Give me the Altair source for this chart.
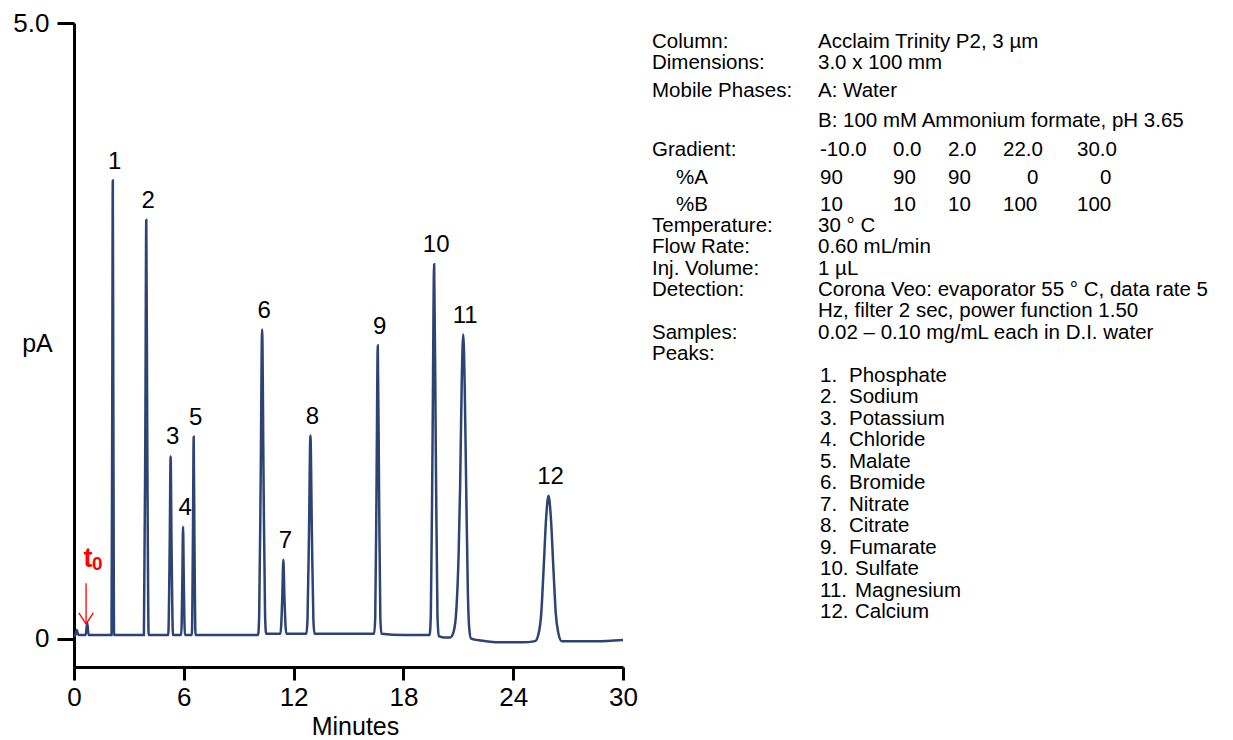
import altair as alt
import pandas as pd

FONT = "Liberation Sans, Arial, sans-serif"
TRACE_COLOR = "#2C4374"

# ---------------- chromatogram trace ----------------
trace_min = [
    0.00, 0.08, 0.15, 0.24, 0.64, 0.72, 0.80, 1.50,
    2.05, 2.09, 2.12, 2.15, 2.19, 3.00,
    3.82, 3.90, 3.95, 4.00, 4.08, 4.70,
    5.15, 5.23, 5.28, 5.33, 5.41,
    5.86, 5.92, 5.96, 6.00, 6.06,
    6.44, 6.50, 6.54, 6.58, 6.64, 7.50, 9.00,
    10.06, 10.12, 10.20, 10.28, 10.36, 10.44, 10.50, 10.90,
    11.28, 11.38, 11.44, 11.50, 11.60, 12.20,
    12.70, 12.76, 12.84, 12.92, 13.00, 13.08, 13.14, 14.50,
    16.40, 16.46, 16.53, 16.60, 16.67, 16.74, 16.80, 18.00,
    19.43, 19.50, 19.59, 19.68, 19.77, 19.86, 19.93, 20.20,
    20.55, 20.75, 20.90, 21.02, 21.10, 21.19, 21.27, 21.35, 21.43, 21.52, 21.60, 21.70, 22.50, 23.50, 24.50,
    25.20, 25.40, 25.53, 25.66, 25.80, 25.93, 26.06, 26.20, 26.33, 26.46, 26.65, 27.50, 28.50, 30.00,
]
trace_pA = [
    0.02, 0.03, 0.07, 0.03, 0.03, 0.13, 0.03, 0.03,
    0.03, 1.90, 3.72, 1.90, 0.03, 0.03,
    0.03, 1.75, 3.40, 1.75, 0.03, 0.03,
    0.03, 0.76, 1.48, 0.76, 0.03,
    0.03, 0.47, 0.91, 0.47, 0.03,
    0.03, 0.84, 1.64, 0.84, 0.03, 0.03, 0.03,
    0.03, 0.20, 1.27, 2.51, 1.27, 0.20, 0.04, 0.04,
    0.04, 0.33, 0.64, 0.33, 0.04, 0.04,
    0.04, 0.16, 0.85, 1.65, 0.85, 0.16, 0.04, 0.04,
    0.04, 0.17, 1.20, 2.38, 1.20, 0.17, 0.04, 0.03,
    0.03, 0.20, 1.54, 3.04, 1.54, 0.20, 0.02, 0.01,
    0.01, 0.06, 0.25, 0.70, 1.24, 2.10, 2.47, 2.05, 1.24, 0.40, 0.08, 0.00, -0.02, -0.03, -0.03,
    -0.02, 0.05, 0.20, 0.56, 0.98, 1.16, 0.98, 0.56, 0.20, 0.05, -0.02, -0.02, -0.02, -0.01,
]
assert len(trace_min) == len(trace_pA)

# ---------------- peaks ----------------
peak_number = ["1", "2", "3", "4", "5", "6", "7", "8", "9", "10", "11", "12"]
peak_rt = [2.12, 3.95, 5.28, 5.96, 6.54, 10.28, 11.44, 12.92, 16.60, 19.68, 21.27, 25.93]
peak_height = [3.72, 3.40, 1.48, 0.91, 1.64, 2.51, 0.64, 1.65, 2.38, 3.04, 2.47, 1.16]
peak_names = ["Phosphate", "Sodium", "Potassium", "Chloride", "Malate", "Bromide",
              "Nitrate", "Citrate", "Fumarate", "Sulfate", "Magnesium", "Calcium"]

# t0 marker (minutes, pA)
t0_shaft_min = [0.66, 0.66]
t0_shaft_pA = [0.45, 0.12]
t0_head_min = [0.26, 1.06]
t0_head_pA = [0.21, 0.21]

# ---------------- conditions text ----------------
cond_labels = ["Column:", "Dimensions:", "Mobile Phases:", "Gradient:", "%A", "%B",
               "Temperature:", "Flow Rate:", "Inj. Volume:", "Detection:", "Samples:", "Peaks:"]
cond_values = ["Acclaim Trinity P2, 3 µm", "3.0 x 100 mm", "A: Water",
               "B: 100 mM Ammonium formate, pH 3.65",
               "30 ° C", "0.60 mL/min", "1 µL",
               "Corona Veo: evaporator 55 ° C, data rate 5",
               "Hz, filter 2 sec, power function 1.50",
               "0.02 – 0.10 mg/mL each in D.I. water"]
grad_time = ["-10.0", "0.0", "2.0", "22.0", "30.0"]
grad_A = ["90", "90", "90", "0", "0"]
grad_B = ["10", "10", "10", "100", "100"]

# ---------------- layout (pixels) ----------------
PLOT_X0, PLOT_Y0 = 74, 23          # page position of plot-area origin
W, H = 549, 644
label_x = [652, 652, 652, 652, 676, 676, 652, 652, 652, 652, 652, 652]
label_y = [42, 63, 91, 150, 178, 205, 226, 247, 269, 290, 333, 354]
value_x = [818] * len(cond_values)
value_y = [42, 63, 91, 121, 226, 247, 269, 290, 311, 333]
grad_cols = [[820, 893, 948, 1003, 1077],
             [820, 893, 948, 1027, 1100],
             [820, 893, 948, 1003, 1077]]
grad_rows_y = [150, 178, 205]

rows = []
for t, x, y in zip(cond_labels, label_x, label_y):
    rows.append((t, x, y))
for t, x, y in zip(cond_values, value_x, value_y):
    rows.append((t, x, y))
for strings, cols, y in zip([grad_time, grad_A, grad_B], grad_cols, grad_rows_y):
    for s, x in zip(strings, cols):
        rows.append((s, x, y))
for i, (num, name) in enumerate(zip(peak_number, peak_names)):
    y = 376 + 21.45 * i
    rows.append((num + ".", 820, y))
    rows.append((name, 849 if i < 9 else 855, y))

text_df = pd.DataFrame({
    "text": [r[0] for r in rows],
    "px": [r[1] - PLOT_X0 for r in rows],
    "py": [r[2] - PLOT_Y0 for r in rows],
})

trace_df = pd.DataFrame({"min": trace_min, "pA": trace_pA})
peaks_df = pd.DataFrame({"min": peak_rt, "pA": peak_height, "label": peak_number})
arrow_df = pd.DataFrame({
    "x": [t0_shaft_min[0], t0_head_min[0], t0_head_min[1]],
    "y": [t0_shaft_pA[0], t0_head_pA[0], t0_head_pA[1]],
    "x2": [t0_shaft_min[1], t0_shaft_min[1], t0_shaft_min[1]],
    "y2": [t0_shaft_pA[1], t0_shaft_pA[1], t0_shaft_pA[1]],
})

x_scale = alt.Scale(domain=[0, 30], nice=False, zero=False)
y_scale = alt.Scale(domain=[-0.23, 5.0], nice=False, zero=False)

x_axis = alt.Axis(
    values=[0, 6, 12, 18, 24, 30], grid=False, labelFlush=False,
    tickSize=13, tickWidth=3, tickColor="black", domainWidth=3, domainColor="black",
    labelFontSize=26, labelFont=FONT, labelColor="black", labelPadding=4,
    title="Minutes", titleFont=FONT, titleFontSize=25, titleFontWeight="normal",
    titleColor="black", titleX=281, titleY=67, titleBaseline="alphabetic",
)
y_axis = alt.Axis(
    values=[0, 5], grid=False,
    labelExpr="datum.value == 0 ? '0' : '5.0'",
    tickSize=17, tickWidth=3, tickColor="black", domainWidth=3, domainColor="black",
    labelFontSize=26, labelFont=FONT, labelColor="black", labelPadding=8,
    title="pA", titleFont=FONT, titleFontSize=25, titleFontWeight="normal",
    titleColor="black", titleAngle=0, titleX=-37, titleY=320,
    titleBaseline="middle", titleAlign="center",
)

line = alt.Chart(trace_df).mark_line(
    color=TRACE_COLOR, strokeWidth=2.5, interpolate="monotone"
).encode(
    x=alt.X("min:Q", scale=x_scale, axis=x_axis),
    y=alt.Y("pA:Q", scale=y_scale, axis=y_axis),
)

labels = alt.Chart(peaks_df).mark_text(
    fontSize=24, font=FONT, color="black", baseline="alphabetic", dy=-12, dx=2
).encode(
    x=alt.X("min:Q", scale=x_scale),
    y=alt.Y("pA:Q", scale=y_scale),
    text="label:N",
)

arrow = alt.Chart(arrow_df).mark_rule(color="red", strokeWidth=1.3).encode(
    x=alt.X("x:Q", scale=x_scale), x2="x2:Q",
    y=alt.Y("y:Q", scale=y_scale), y2="y2:Q",
)

t_text = alt.Chart(pd.DataFrame({"t": ["t"]})).mark_text(
    fontSize=27, font=FONT, fontWeight="bold", color="red", align="center", baseline="alphabetic"
).encode(x=alt.value(88 - PLOT_X0), y=alt.value(567 - PLOT_Y0), text="t:N")
t_sub = alt.Chart(pd.DataFrame({"t": ["0"]})).mark_text(
    fontSize=19, font=FONT, fontWeight="bold", color="red", align="left", baseline="alphabetic"
).encode(x=alt.value(92 - PLOT_X0), y=alt.value(570 - PLOT_Y0), text="t:N")

block = alt.Chart(text_df).mark_text(
    align="left", baseline="middle", fontSize=20.5, font=FONT, color="black"
).encode(
    x=alt.X("px:Q", scale=None),
    y=alt.Y("py:Q", scale=None),
    text="text:N",
)

chart = alt.layer(line, labels, arrow, t_text, t_sub, block).properties(
    width=W, height=H,
    autosize=alt.AutoSizeParams(type="none"),
    padding={"left": PLOT_X0 - 8, "top": PLOT_Y0 - 8, "right": 600, "bottom": 73},
    background="white",
).configure_view(stroke=None)

chart.save("out.html", embed_options={"renderer": "svg", "actions": False})
